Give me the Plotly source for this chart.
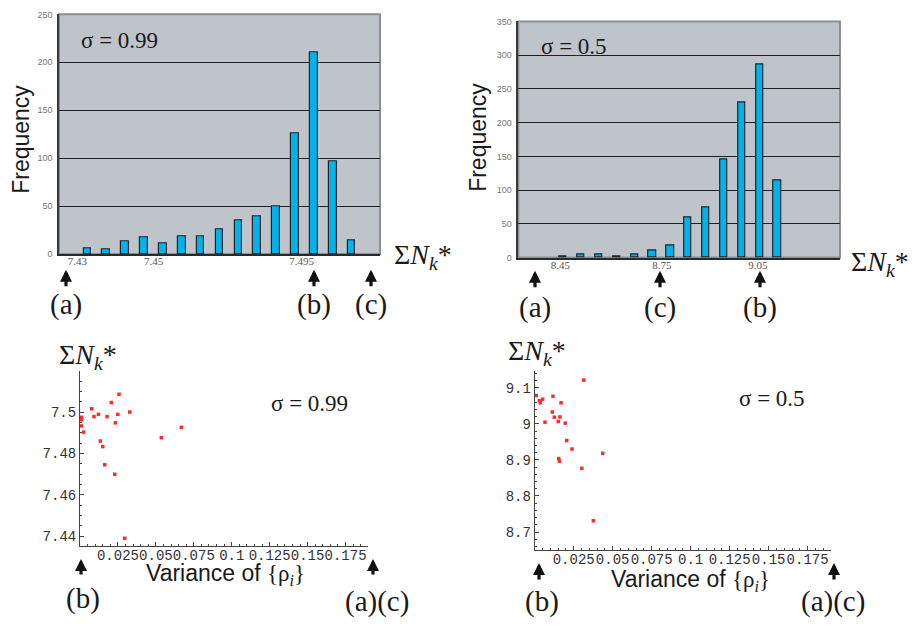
import plotly.graph_objects as go

W, H = 914, 628

# ---------------- data ----------------
hist1_bins = list(range(1, 16))
hist1_counts = [6, 5, 13, 17, 11, 18, 18, 26, 35, 39, 50, 126, 210, 97, 14]
hist1_ticktext = ["7.43", "7.45", "7.495"]
hist1_tickvals = [0.47, 4.51, 12.35]

hist2_bins = list(range(3, 16))
hist2_counts = [2, 4, 4, 2, 4, 11, 18, 60, 75, 145, 230, 287, 114]
hist2_ticktext = ["8.45", "8.75", "9.05"]
hist2_tickvals = [2.85, 8.53, 13.9]

var1 = [0.0009, 0.0009, 0.0009, 0.0009, 0.0024, 0.0077, 0.0092, 0.0121, 0.0134,
        0.0150, 0.0163, 0.0178, 0.0206, 0.0229, 0.0233, 0.0249, 0.0257, 0.0295,
        0.0328, 0.0536, 0.0668]
sum1 = [7.4975, 7.4969, 7.4963, 7.4933, 7.4903, 7.5016, 7.4978, 7.4989, 7.4860,
        7.4833, 7.4745, 7.4978, 7.5046, 7.4699, 7.4948, 7.4989, 7.5086, 7.4389,
        7.5000, 7.4876, 7.4926]

var2 = [0.0010, 0.0030, 0.0036, 0.0051, 0.0066, 0.0113, 0.0117, 0.0126, 0.0151,
        0.0154, 0.0158, 0.0162, 0.0169, 0.0196, 0.0205, 0.0239, 0.0302, 0.0315,
        0.0376, 0.0436]
sum2 = [9.0782, 9.0638, 9.0583, 9.0681, 9.0046, 9.0327, 9.0763, 9.0183, 9.0065,
        8.9038, 8.8965, 9.0191, 9.0583, 9.0019, 8.9537, 8.9302, 8.8766, 9.1210,
        8.7313, 8.9183]

var_ticks = [0.025, 0.05, 0.075, 0.1, 0.125, 0.15, 0.175]
var_ticktext = ["0.025", "0.05", "0.075", "0.1", "0.125", "0.15", "0.175"]
sum1_ticks = [7.44, 7.46, 7.48, 7.5]
sum1_ticktext = ["7.44", "7.46", "7.48", "7.5"]
sum2_ticks = [8.7, 8.8, 8.9, 9.0, 9.1]
sum2_ticktext = ["8.7", "8.8", "8.9", "9", "9.1"]

# ---------------- helpers ----------------
def fx(p):
    return p / W

def fy(p):
    return 1 - p / H

SERIF = "Liberation Serif"
SANS = "Liberation Sans"
MONO = "Liberation Mono, DejaVu Sans Mono, monospace"
BAR_FILL = "#00B2EA"
BAR_LINE = "#1C262C"
PANEL_BG = "#BFC4CA"

fig = go.Figure()

fig.add_trace(go.Bar(x=hist1_bins, y=hist1_counts, width=0.4,
                     marker=dict(color=BAR_FILL, line=dict(color=BAR_LINE, width=1.2)),
                     xaxis="x", yaxis="y", showlegend=False))
fig.add_trace(go.Bar(x=hist2_bins, y=hist2_counts, width=0.41,
                     marker=dict(color=BAR_FILL, line=dict(color=BAR_LINE, width=1.2)),
                     xaxis="x2", yaxis="y2", showlegend=False))
fig.add_trace(go.Scatter(x=var1, y=sum1, mode="markers",
                         marker=dict(symbol="square", size=3.5, color="#FF2A2A"),
                         xaxis="x3", yaxis="y3", showlegend=False, cliponaxis=False))
fig.add_trace(go.Scatter(x=var2, y=sum2, mode="markers",
                         marker=dict(symbol="square", size=3.5, color="#FF2A2A"),
                         xaxis="x4", yaxis="y4", showlegend=False, cliponaxis=False))

hist_x_common = dict(showgrid=False, zeroline=False, showline=True, linecolor="#2a2a2a",
                     linewidth=1.5, ticks="", tickmode="array", ticklabelstandoff=-4,
                     tickangle=0,
                     tickfont=dict(family=SERIF, size=11, color="#555"))
hist_y_common = dict(showgrid=True, gridcolor="#1e1e1e", gridwidth=1, zeroline=False,
                     showline=True, linecolor="#3a3a3a", linewidth=1.5, ticks="",
                     ticklabelstandoff=3,
                     tickfont=dict(family=SANS, size=9, color="#777"))

sc_x_common = dict(showgrid=False, zeroline=False, showline=True, linecolor="#444",
                   linewidth=1, ticks="inside", ticklen=4, tickcolor="#444",
                   tickmode="array", tickvals=var_ticks, ticktext=var_ticktext,
                   range=[0, 0.19], ticklabelstandoff=-4, tickangle=0,
                   minor=dict(ticks="inside", ticklen=2, tickcolor="#444", dtick=0.005, tick0=0),
                   tickfont=dict(family=MONO, size=14, color="#333"))
sc_y_common = dict(showgrid=False, zeroline=False, showline=True, linecolor="#444",
                   linewidth=1, ticks="inside", ticklen=4, tickcolor="#444",
                   tickmode="array",
                   tickfont=dict(family=MONO, size=14, color="#333"))

fig.update_layout(
    width=W, height=H,
    margin=dict(l=0, r=0, t=0, b=0, pad=0),
    paper_bgcolor="white", plot_bgcolor="rgba(0,0,0,0)",
    bargap=0,
    xaxis=dict(domain=[fx(59), fx(380)], range=[-0.5, 16.5], anchor="y",
               tickvals=hist1_tickvals, ticktext=hist1_ticktext, **hist_x_common),
    yaxis=dict(domain=[fy(253), fy(9.5)], range=[0, 250], anchor="x",
               tickvals=[0, 50, 100, 150, 200, 250], **hist_y_common),
    xaxis2=dict(domain=[fx(518.3), fx(840)], range=[0.5, 18.5], anchor="y2",
                tickvals=hist2_tickvals, ticktext=hist2_ticktext, **hist_x_common),
    yaxis2=dict(domain=[fy(256.7), fy(16.7)], range=[0, 350], anchor="x2",
                tickvals=[0, 50, 100, 150, 200, 250, 300, 350], **hist_y_common),
    xaxis3=dict(domain=[fx(80), fx(368.3)], anchor="y3", **sc_x_common),
    yaxis3=dict(domain=[fy(549.7), fy(371.7)], range=[7.4352, 7.52], anchor="x3",
                tickvals=sum1_ticks, ticktext=sum1_ticktext,
                minor=dict(ticks="inside", ticklen=2, tickcolor="#444", dtick=0.005, tick0=7.44),
                **sc_y_common),
    xaxis4=dict(domain=[fx(534.7), fx(831)], anchor="y4", **sc_x_common),
    yaxis4=dict(domain=[fy(554.3), fy(371.7)], range=[8.649, 9.147], anchor="x4",
                tickvals=sum2_ticks, ticktext=sum2_ticktext,
                minor=dict(ticks="inside", ticklen=2, tickcolor="#444", dtick=0.02, tick0=8.7),
                **sc_y_common),
)

# histogram panel backgrounds
for xr, yr in (("x", "y"), ("x2", "y2")):
    fig.add_shape(type="rect", xref=f"{xr} domain", yref=f"{yr} domain",
                  x0=0, x1=1, y0=0, y1=1, fillcolor=PANEL_BG,
                  line=dict(color="#8A8F94", width=2), layer="below")

ann = []

def text(xp, yp, s, family, size, color="#1a1a1a", angle=0, xanchor="center"):
    ann.append(dict(x=fx(xp), y=fy(yp), xref="paper", yref="paper", text=s,
                    showarrow=False, xanchor=xanchor, yanchor="middle",
                    textangle=angle, font=dict(family=family, size=size, color=color)))

def arrow(xp, tip, tail):
    ann.append(dict(x=fx(xp), y=fy(tip), xref="paper", yref="paper", text="",
                    showarrow=True, ax=0, ay=tail - tip, axref="pixel", ayref="pixel",
                    arrowhead=2, arrowsize=0.75, arrowwidth=3.2, arrowcolor="#111"))

SUM = "Σ<i>N</i><sub><i>k</i></sub>*"
VAR = "Variance of <span style='font-family:Liberation Serif'>{ρ<sub><i>i</i></sub>}</span>"

# panel 1
text(21, 137, "Frequency", SANS, 23, angle=-90)
text(119, 36, "σ = 0.99", SERIF, 23)
text(392, 256, SUM, SERIF, 28, xanchor="left")
for xp, lab in ((66, "(a)"), (314, "(b)"), (371, "(c)")):
    arrow(xp, 269, 287)
    text(xp, 304, lab, SERIF, 29)

# panel 2
text(478, 135, "Frequency", SANS, 23, angle=-90)
text(574, 42, "σ = 0.5", SERIF, 23)
text(849, 263, SUM, SERIF, 28, xanchor="left")
for xp, lab in ((535, "(a)"), (660, "(c)"), (760, "(b)")):
    arrow(xp, 270, 288)
    text(xp, 307, lab, SERIF, 29)

# panel 3
text(57, 357, SUM, SERIF, 28, xanchor="left")
text(309, 405, "σ = 0.99", SERIF, 23)
text(225, 579, VAR, SANS, 23)
arrow(81, 563, 580)
arrow(373, 563, 580)
text(83, 603, "(b)", SERIF, 29)
text(377, 606, "(a)(c)", SERIF, 29)

# panel 4
text(506, 353, SUM, SERIF, 28, xanchor="left")
text(772, 400, "σ = 0.5", SERIF, 23)
text(690, 585, VAR, SANS, 23)
arrow(539, 567, 585)
arrow(834, 567, 585)
text(542, 606, "(b)", SERIF, 29)
text(833, 606, "(a)(c)", SERIF, 29)

fig.update_layout(annotations=ann)

fig.write_html(
    "out.html",
    config={"displayModeBar": False},
    post_script="document.body.style.margin='0';document.body.style.padding='0';"
                "document.body.style.overflow='hidden';",
)
